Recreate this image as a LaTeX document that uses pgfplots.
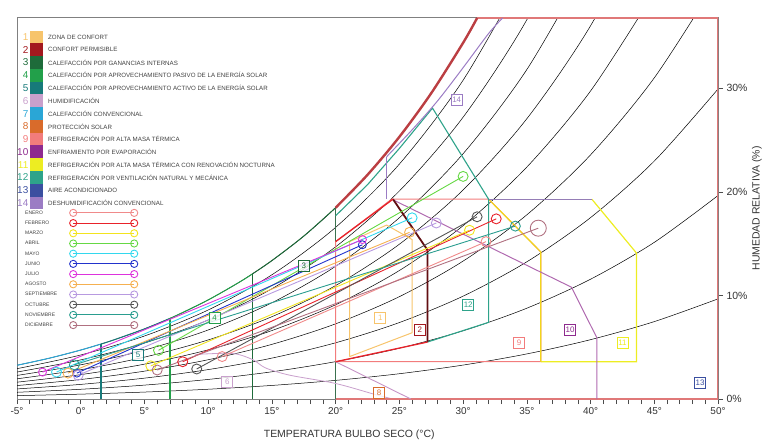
\documentclass[border=0pt]{standalone}
\usepackage{fontspec}
\setmainfont{Liberation Sans}
\usepackage{pgfplots}
\pgfplotsset{compat=1.18}

\definecolor{z1}{HTML}{F7C46C}
\definecolor{z2}{HTML}{A3181E}
\definecolor{z3}{HTML}{1E6B3A}
\definecolor{z4}{HTML}{22A04A}
\definecolor{z5}{HTML}{177A7A}
\definecolor{z6}{HTML}{C9A0CC}
\definecolor{z7}{HTML}{2AA6D6}
\definecolor{z8}{HTML}{D96B2B}
\definecolor{z9}{HTML}{F27C7C}
\definecolor{z10}{HTML}{8E2A8E}
\definecolor{z11}{HTML}{EDED22}
\definecolor{z12}{HTML}{2EA38A}
\definecolor{z13}{HTML}{3A4FA0}
\definecolor{z14}{HTML}{9B7CC4}
\definecolor{m1}{HTML}{F08A8A}
\definecolor{m2}{HTML}{E8222A}
\definecolor{m3}{HTML}{F2E41E}
\definecolor{m4}{HTML}{66D844}
\definecolor{m5}{HTML}{33D8EE}
\definecolor{m6}{HTML}{2233CC}
\definecolor{m7}{HTML}{DD33DD}
\definecolor{m8}{HTML}{F5B050}
\definecolor{m9}{HTML}{B89AE0}
\definecolor{m10}{HTML}{555555}
\definecolor{m11}{HTML}{2A9D8F}
\definecolor{m12}{HTML}{B07080}
\definecolor{frame}{HTML}{E07878}

\begin{document}
\begin{tikzpicture}
\begin{axis}[
    scale only axis, width=701bp, height=381bp,
    xmin=-5, xmax=50, ymin=0, ymax=36.8,
    axis line style={draw=gray, line width=1bp},
    xtick={-5,0,...,50},
    xticklabels={-5°,0°,5°,10°,15°,20°,25°,30°,35°,40°,45°,50°},
    minor x tick num=4,
    xtick pos=bottom,
    ytick={0,10,20,30}, yticklabels={0\%,10\%,20\%,30\%},
    ytick pos=right, yticklabel pos=right,
    tick align=outside, major tick length=5bp, minor tick length=5bp,
    tick style={black!70, line width=0.6bp},
    xticklabel style={font=\fontsize{10}{10}\selectfont, text=black!80},
    yticklabel style={font=\fontsize{10.5}{10.5}\selectfont, text=black!80},
    xlabel={TEMPERATURA BULBO SECO (°C)},
    xlabel style={at={(rel axis cs:0.474,0)}, anchor=center, yshift=-36bp,
                  font=\fontsize{10.5}{10.5}\selectfont, text=black!80},
    ylabel={HUMEDAD RELATIVA (\%)},
    ylabel style={at={(rel axis cs:1,0.5)}, anchor=center, rotate=0, yshift=-39bp,
                  font=\fontsize{10.5}{10.5}\selectfont, text=black!80},
    legend style={at={(rel axis cs:0.01,0.4948)}, anchor=north west,
                  draw=none, fill=none, inner sep=0pt, row sep=5.8bp,
                  font=\fontsize{5}{5}\selectfont,
                  nodes={inner sep=0pt, text height=3.6bp, text depth=0.8bp, text=black!75}},
    legend cell align=left,
    legend image code/.code={
        \path[draw=none, fill=none] (0bp,0bp) rectangle (1bp,0.1bp);
        \draw[overlay] (49bp,0bp) -- (110bp,0bp);
        \draw[overlay] (49bp,0bp) circle[radius=3.6bp] (110bp,0bp) circle[radius=3.6bp];
    },
]

% curvas de humedad relativa (10% ... 100%)
\addplot[black, line width=0.5bp, smooth, forget plot] coordinates {(-5,3.258) (-2.5,3.932) (0,4.729) (2.5,5.668) (5,6.770) (7.5,8.061) (10,9.569) (12.5,11.325) (15,13.37) (17.5,15.735) (20,18.48) (22.5,21.653) (25,25.32) (27.5,29.538) (30,34.40) (32.5,40.02)};
\addplot[black, line width=0.5bp, smooth, forget plot] coordinates {(-5,2.930) (0,4.253) (5,6.086) (10,8.599) (15,12.00) (20,16.58) (25,22.69) (30,30.79) (35,41.51)};
\addplot[black, line width=0.5bp, smooth, forget plot] coordinates {(-5,2.603) (0,3.778) (5,5.404) (10,7.632) (15,10.65) (20,14.70) (25,20.09) (30,27.22) (35,36.63) (40,49.01)};
\addplot[black, line width=0.5bp, smooth, forget plot] coordinates {(-5,2.277) (0,3.303) (5,4.724) (10,6.667) (15,9.297) (20,12.82) (25,17.51) (30,23.69) (35,31.82) (40,42.46)};
\addplot[black, line width=0.5bp, smooth, forget plot] coordinates {(-5,1.950) (0,2.829) (5,4.045) (10,5.706) (15,7.951) (20,10.96) (25,14.95) (30,20.19) (35,27.07) (40,36.05) (45,47.72)};
\addplot[black, line width=0.5bp, smooth, forget plot] coordinates {(-5,1.624) (0,2.356) (5,3.367) (10,4.748) (15,6.612) (20,9.104) (25,12.41) (30,16.74) (35,22.40) (40,29.75) (45,39.27)};
\addplot[black, line width=0.5bp, smooth, forget plot] coordinates {(-5,1.299) (0,1.883) (5,2.690) (10,3.793) (15,5.279) (20,7.262) (25,9.885) (30,13.32) (35,17.79) (40,23.58) (45,31.02) (50,40.57)};
\addplot[black, line width=0.5bp, smooth, forget plot] coordinates {(-5,0.974) (0,1.412) (5,2.015) (10,2.840) (15,3.951) (20,5.431) (25,7.385) (30,9.935) (35,13.25) (40,17.52) (45,22.98) (50,29.94)};
\addplot[black, line width=0.5bp, smooth, forget plot] coordinates {(-5,0.649) (0,0.940) (5,1.342) (10,1.890) (15,2.628) (20,3.610) (25,4.904) (30,6.589) (35,8.770) (40,11.57) (45,15.13) (50,19.65)};
\addplot[black, line width=0.5bp, smooth, forget plot] coordinates {(-5,0.324) (0,0.470) (5,0.670) (10,0.944) (15,1.311) (20,1.800) (25,2.442) (30,3.277) (35,4.354) (40,5.731) (45,7.476) (50,9.670)};

% zonas de calefaccion (limites verticales y borde de saturacion)
\addplot[z7, line width=1bp, smooth, forget plot] coordinates {(-5,3.258) (-2.5,3.932) (0,4.729) (1.6,5.312)};
\addplot[z5, line width=1.3bp, forget plot] coordinates {(1.6,0) (1.6,5.312)};
\addplot[z5, line width=1bp, smooth, forget plot] coordinates {(1.6,5.312) (2.5,5.668) (5,6.770) (7,7.786)};
\addplot[z4, line width=1.3bp, forget plot] coordinates {(7,0) (7,7.786)};
\addplot[z4, line width=1bp, smooth, forget plot] coordinates {(7,7.786) (7.5,8.061) (10,9.569) (12.5,11.325) (13.5,12.105)};
\addplot[z3, line width=1.3bp, forget plot] coordinates {(13.5,0) (13.5,12.105)};
\addplot[z3, line width=1bp, smooth, forget plot] coordinates {(13.5,12.105) (15,13.37) (17.5,15.735) (20,18.48)};
\addplot[z3!70!gray, line width=1.6bp, forget plot] coordinates {(20,0) (20,18.48)};

% humidificacion
\addplot[z6, line width=0.8bp, smooth, forget plot] coordinates {(9,4.3) (11.9,4.4) (13.5,3.8) (14.5,3.0) (16.4,2.3) (20,1.5) (23.2,0.4) (24.5,0)};

% marco de aire acondicionado
\addplot[frame, line width=1.5bp, forget plot] coordinates {(20,0) (50,0) (50,36.8) (31.1,36.8)};
% saturacion gruesa
\addplot[z2!60!frame, line width=2.4bp, smooth, forget plot] coordinates {(20,18.48) (22.5,21.653) (25,25.32) (27.5,29.538) (30,34.40) (31.1,36.8)};

% refrigeracion por alta masa termica / ventilacion nocturna
\addplot[z9, line width=1bp, forget plot] coordinates {(20,3.6) (36.1,3.6) (36.1,14.2) (32,19.3) (24.4,19.3) (20,15.2) (20,3.6)};
\addplot[z11, line width=1.2bp, forget plot] coordinates {(36.1,3.6) (43.6,3.6) (43.6,14.1) (40.1,19.3)};
\addplot[z11!80!orange, line width=1.2bp, forget plot] coordinates {(32,19.3) (36.1,14.2) (36.1,3.6)};
\addplot[z14!80!gray, line width=0.9bp, forget plot] coordinates {(32,19.3) (40.1,19.3)};
% enfriamiento evaporativo
\addplot[z10!70!white, line width=1bp, forget plot] coordinates {(24.4,19.3) (38.5,10.8) (40.5,5.9) (40.5,0)};
\addplot[z10!50!white, line width=0.9bp, forget plot] coordinates {(20,3.6) (25.9,0)};
% ventilacion
\addplot[z12, line width=1.1bp, forget plot] coordinates {(27.2,5.5) (32,7.4) (32,19.3) (27.6,28.1) (25,24.2) (22.5,20.7) (20,17.7)};
% deshumidificacion
\addplot[z14, line width=1bp, forget plot] coordinates {(24,19.3) (24,23.4)};
\addplot[z14, line width=1bp, smooth, forget plot] coordinates {(24,23.4) (26,26.0) (28,28.8) (30,32.0) (32,35.3) (33.1,36.8)};
% confort
\addplot[z1, line width=1bp, forget plot] coordinates {(21.1,4.1) (26,6.4) (26,15.4) (24,16.8) (21.1,15.2) (21.1,4.1)};
\addplot[z2!60!black, line width=1.8bp, forget plot] coordinates {(27.2,5.5) (27.2,14.4) (24.5,19.3)};
\addplot[m2, line width=1.3bp, forget plot] coordinates {(20,3.6) (27.2,5.5)};
\addplot[m2, line width=1.3bp, forget plot] coordinates {(20,15.2) (24.5,19.3)};

% meses: minima y maxima
\addplot[m1, line width=0.9bp, mark=o, mark size=5bp] coordinates {(11.1,4.1) (31.8,15.2)};
\addplot[m2, line width=0.9bp, mark=o, mark size=5bp] coordinates {(8.0,3.6) (32.6,17.4)};
\addplot[m3, line width=0.9bp, mark=o, mark size=5bp] coordinates {(5.5,3.2) (30.5,16.3)};
\addplot[m4, line width=0.9bp, mark=o, mark size=5bp] coordinates {(6.1,4.7) (30.0,21.5)};
\addplot[m5, line width=0.9bp, mark=o, mark size=5bp] coordinates {(-1.9,2.6) (26.0,17.5)};
\addplot[m6, line width=0.9bp, mark=o, mark size=4bp] coordinates {(-0.3,2.5) (22.1,14.9)};
\addplot[m7, line width=0.9bp, mark=o, mark size=4bp] coordinates {(-3.0,2.6) (22.1,15.4)};
\addplot[m8, line width=0.9bp, mark=o, mark size=5bp] coordinates {(-1.0,2.5) (25.8,16.1)};
\addplot[m9, line width=0.9bp, mark=o, mark size=5bp] coordinates {(-0.2,2.3) (27.9,17.0)};
\addplot[m10, line width=0.9bp, mark=o, mark size=5bp] coordinates {(9.1,2.9) (31.1,17.6)};
\addplot[m11, line width=0.9bp, mark=o, mark size=5bp] coordinates {(-0.5,3.3) (34.1,16.7)};
\addplot[m12, line width=0.9bp, mark=o, mark size=5bp, mark indices={1}] coordinates {(6.0,2.8) (35.9,16.5)};
\addplot[m12, only marks, mark=o, mark size=8bp, line width=0.9bp, forget plot] coordinates {(35.9,16.5)};
\legend{ENERO,FEBRERO,MARZO,ABRIL,MAYO,JUNIO,JULIO,AGOSTO,SEPTIEMBRE,OCTUBRE,NOVIEMBRE,DICIEMBRE}

% etiquetas de zonas
\foreach \n/\c/\xx/\yy in {1/z1/23.5/7.8, 2/z2/26.6/6.7, 3/z3/17.5/12.9, 4/z4/10.5/7.8, 5/z5/4.5/4.25, 6/z6/11.5/1.7, 8/z8/23.4/0.6, 9/z9/34.4/5.4, 10/z10/38.4/6.7, 11/z11/42.5/5.4, 12/z12/30.4/9.1, 13/z13/48.6/1.6, 14/z14/29.5/28.9}{
    \edef\tmp{\noexpand\node[draw=\c, text=\c, line width=0.7bp, fill=white, fill opacity=0.8, text opacity=1, minimum size=11bp, inner sep=0pt, font=\noexpand\fontsize{8}{8}\noexpand\selectfont] at (axis cs:\xx,\yy) {\n};}
    \tmp
}

% porcentajes de humedad relativa arriba
\foreach \p/\xx in {100/30.76, 90/32.96, 80/35.30, 70/37.88, 60/40.85, 50/44.38, 40/48.6}{
    \edef\tmp{\noexpand\node[anchor=south, inner sep=1bp, text=black!80, font=\noexpand\fontsize{8.5}{8.5}\noexpand\selectfont] at (axis cs:\xx,36.8) {\p\noexpand\%};}
    \tmp
}
\end{axis}

% leyenda de zonas
\begin{scope}[shift={(current axis.north west)}]
\foreach \i/\c/\t in {
    1/z1/ZONA DE CONFORT,
    2/z2/CONFORT PERMISIBLE,
    3/z3/CALEFACCIÓN POR GANANCIAS INTERNAS,
    4/z4/CALEFACCIÓN POR APROVECHAMIENTO PASIVO DE LA ENERGÍA SOLAR,
    5/z5/CALEFACCIÓN POR APROVECHAMIENTO ACTIVO DE LA ENERGÍA SOLAR,
    6/z6/HUMIDIFICACIÓN,
    7/z7/CALEFACCIÓN CONVENCIONAL,
    8/z8/PROTECCIÓN SOLAR,
    9/z9/REFRIGERACIÓN POR ALTA MASA TÉRMICA,
    10/z10/ENFRIAMIENTO POR EVAPORACIÓN,
    11/z11/REFRIGERACIÓN POR ALTA MASA TÉRMICA CON RENOVACIÓN NOCTURNA,
    12/z12/REFRIGERACIÓN POR VENTILACIÓN NATURAL Y MECÁNICA,
    13/z13/AIRE ACONDICIONADO,
    14/z14/DESHUMIDIFICACIÓN CONVENCIONAL}{
    \pgfmathsetmacro\yy{-(19+(\i-1)*12.77)}
    \fill[\c] (13bp,{\yy bp+6.45bp}) rectangle (26bp,{\yy bp-6.45bp});
    \node[anchor=east, inner sep=0pt, text=\c, font=\fontsize{10}{10}\selectfont] at (11.5bp,\yy bp) {\i};
    \node[anchor=west, inner sep=0pt, text=black!75, font=\fontsize{6.2}{6.2}\selectfont] at (31bp,\yy bp) {\t};
}
\end{scope}

\pgfresetboundingbox
\path ([shift={(-17bp,-48bp)}]current axis.south west) rectangle ([shift={(44bp,18bp)}]current axis.north east);
\end{tikzpicture}
\end{document}
